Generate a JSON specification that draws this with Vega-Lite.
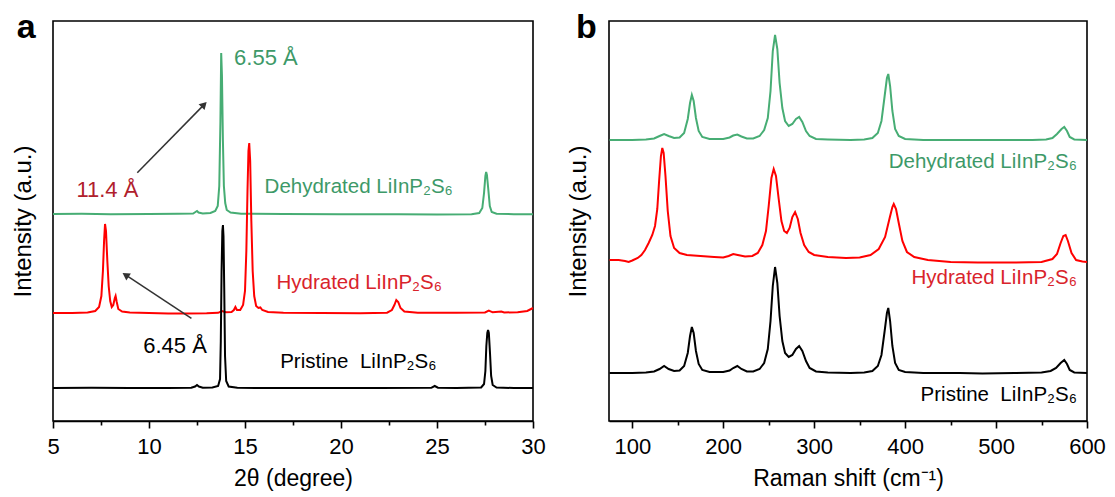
{
  "$schema": "https://vega.github.io/schema/vega-lite/v6.json",
  "background": "white",
  "padding": {"left": 10, "top": 10, "right": 5, "bottom": 5},
  "spacing": 18,
  "config": {
    "font": "Liberation Sans",
    "view": {"stroke": "#000000", "strokeWidth": 1.6},
    "axis": {"labelColor": "#000000", "titleColor": "#000000", "tickColor": "#000000", "domainColor": "#000000", "labelFont": "Liberation Sans", "titleFont": "Liberation Sans", "grid": false},
    "text": {"font": "Liberation Sans"}
  },
  "datasets": {
    "xrd": [
      {"s":"Dehydrated","t":5,"i":207},{"s":"Dehydrated","t":6.5,"i":207.2},{"s":"Dehydrated","t":8,"i":206.8},{"s":"Dehydrated","t":10,"i":207},{"s":"Dehydrated","t":11.5,"i":207.2},{"s":"Dehydrated","t":12.3,"i":207.5},{"s":"Dehydrated","t":12.42,"i":209},{"s":"Dehydrated","t":12.5,"i":210},{"s":"Dehydrated","t":12.58,"i":208.5},{"s":"Dehydrated","t":12.8,"i":207.5},{"s":"Dehydrated","t":13.2,"i":208},{"s":"Dehydrated","t":13.45,"i":210},{"s":"Dehydrated","t":13.58,"i":215},{"s":"Dehydrated","t":13.66,"i":235},{"s":"Dehydrated","t":13.72,"i":300},{"s":"Dehydrated","t":13.76,"i":368},{"s":"Dehydrated","t":13.8,"i":345},{"s":"Dehydrated","t":13.85,"i":280},{"s":"Dehydrated","t":13.9,"i":235},{"s":"Dehydrated","t":13.97,"i":218},{"s":"Dehydrated","t":14.05,"i":211},{"s":"Dehydrated","t":14.25,"i":208.5},{"s":"Dehydrated","t":14.8,"i":207.2},{"s":"Dehydrated","t":17,"i":207},{"s":"Dehydrated","t":20,"i":206.7},{"s":"Dehydrated","t":23,"i":206.7},{"s":"Dehydrated","t":25,"i":206.6},{"s":"Dehydrated","t":26.8,"i":206.8},{"s":"Dehydrated","t":27.2,"i":208},{"s":"Dehydrated","t":27.36,"i":213},{"s":"Dehydrated","t":27.45,"i":228},{"s":"Dehydrated","t":27.52,"i":245},{"s":"Dehydrated","t":27.56,"i":249},{"s":"Dehydrated","t":27.6,"i":246},{"s":"Dehydrated","t":27.67,"i":232},{"s":"Dehydrated","t":27.75,"i":215},{"s":"Dehydrated","t":27.85,"i":209},{"s":"Dehydrated","t":28.1,"i":207.2},{"s":"Dehydrated","t":29,"i":206.8},{"s":"Dehydrated","t":30,"i":206.7},
      {"s":"Hydrated","t":5,"i":108},{"s":"Hydrated","t":6,"i":108},{"s":"Hydrated","t":6.8,"i":108.5},{"s":"Hydrated","t":7.2,"i":110},{"s":"Hydrated","t":7.4,"i":114},{"s":"Hydrated","t":7.52,"i":125},{"s":"Hydrated","t":7.6,"i":150},{"s":"Hydrated","t":7.66,"i":180},{"s":"Hydrated","t":7.71,"i":197},{"s":"Hydrated","t":7.76,"i":190},{"s":"Hydrated","t":7.83,"i":160},{"s":"Hydrated","t":7.9,"i":135},{"s":"Hydrated","t":7.98,"i":120},{"s":"Hydrated","t":8.06,"i":114},{"s":"Hydrated","t":8.14,"i":116},{"s":"Hydrated","t":8.22,"i":123},{"s":"Hydrated","t":8.26,"i":125},{"s":"Hydrated","t":8.32,"i":119},{"s":"Hydrated","t":8.4,"i":112},{"s":"Hydrated","t":8.6,"i":109.5},{"s":"Hydrated","t":9,"i":108.5},{"s":"Hydrated","t":10,"i":108},{"s":"Hydrated","t":11,"i":107.6},{"s":"Hydrated","t":12,"i":107.6},{"s":"Hydrated","t":13,"i":107.8},{"s":"Hydrated","t":13.6,"i":108.2},{"s":"Hydrated","t":13.8,"i":110},{"s":"Hydrated","t":14.0,"i":108.8},{"s":"Hydrated","t":14.3,"i":109},{"s":"Hydrated","t":14.42,"i":111},{"s":"Hydrated","t":14.5,"i":114},{"s":"Hydrated","t":14.58,"i":111},{"s":"Hydrated","t":14.75,"i":111},{"s":"Hydrated","t":14.9,"i":116},{"s":"Hydrated","t":15.0,"i":130},{"s":"Hydrated","t":15.07,"i":170},{"s":"Hydrated","t":15.13,"i":230},{"s":"Hydrated","t":15.18,"i":270},{"s":"Hydrated","t":15.22,"i":278},{"s":"Hydrated","t":15.27,"i":260},{"s":"Hydrated","t":15.33,"i":200},{"s":"Hydrated","t":15.4,"i":150},{"s":"Hydrated","t":15.48,"i":125},{"s":"Hydrated","t":15.58,"i":115},{"s":"Hydrated","t":15.7,"i":113},{"s":"Hydrated","t":15.8,"i":113.5},{"s":"Hydrated","t":15.9,"i":111},{"s":"Hydrated","t":16.2,"i":109},{"s":"Hydrated","t":17,"i":108.3},{"s":"Hydrated","t":19,"i":108},{"s":"Hydrated","t":21,"i":107.8},{"s":"Hydrated","t":22.4,"i":108.3},{"s":"Hydrated","t":22.65,"i":111},{"s":"Hydrated","t":22.78,"i":116},{"s":"Hydrated","t":22.88,"i":121},{"s":"Hydrated","t":22.98,"i":119},{"s":"Hydrated","t":23.1,"i":113},{"s":"Hydrated","t":23.3,"i":109.5},{"s":"Hydrated","t":24,"i":108.3},{"s":"Hydrated","t":26,"i":108.3},{"s":"Hydrated","t":27.5,"i":108.5},{"s":"Hydrated","t":27.7,"i":110.5},{"s":"Hydrated","t":27.9,"i":108.7},{"s":"Hydrated","t":28.35,"i":109.5},{"s":"Hydrated","t":28.5,"i":108.5},{"s":"Hydrated","t":29.2,"i":108.8},{"s":"Hydrated","t":29.7,"i":110},{"s":"Hydrated","t":30,"i":113},
      {"s":"Pristine","t":5,"i":33},{"s":"Pristine","t":7,"i":33.2},{"s":"Pristine","t":9,"i":33},{"s":"Pristine","t":11,"i":33},{"s":"Pristine","t":12.2,"i":33.2},{"s":"Pristine","t":12.4,"i":34.5},{"s":"Pristine","t":12.5,"i":36},{"s":"Pristine","t":12.6,"i":34.5},{"s":"Pristine","t":12.8,"i":33.3},{"s":"Pristine","t":13.3,"i":33.5},{"s":"Pristine","t":13.6,"i":35},{"s":"Pristine","t":13.7,"i":42},{"s":"Pristine","t":13.74,"i":80},{"s":"Pristine","t":13.78,"i":150},{"s":"Pristine","t":13.82,"i":190},{"s":"Pristine","t":13.85,"i":196},{"s":"Pristine","t":13.88,"i":185},{"s":"Pristine","t":13.92,"i":130},{"s":"Pristine","t":13.96,"i":65},{"s":"Pristine","t":14.02,"i":40},{"s":"Pristine","t":14.15,"i":34.5},{"s":"Pristine","t":14.6,"i":33.2},{"s":"Pristine","t":16,"i":33},{"s":"Pristine","t":18,"i":33},{"s":"Pristine","t":20,"i":33},{"s":"Pristine","t":22,"i":33},{"s":"Pristine","t":24.7,"i":33.2},{"s":"Pristine","t":24.88,"i":35},{"s":"Pristine","t":25.05,"i":33.3},{"s":"Pristine","t":26,"i":33},{"s":"Pristine","t":27.3,"i":33.5},{"s":"Pristine","t":27.45,"i":37},{"s":"Pristine","t":27.52,"i":50},{"s":"Pristine","t":27.57,"i":75},{"s":"Pristine","t":27.62,"i":88},{"s":"Pristine","t":27.66,"i":91},{"s":"Pristine","t":27.7,"i":88},{"s":"Pristine","t":27.76,"i":68},{"s":"Pristine","t":27.82,"i":45},{"s":"Pristine","t":27.9,"i":36},{"s":"Pristine","t":28.1,"i":33.5},{"s":"Pristine","t":29,"i":33},{"s":"Pristine","t":30,"i":33}
    ],
    "raman": [
      {"s":"Dehydrated","t":75,"i":281},{"s":"Dehydrated","t":100,"i":281},{"s":"Dehydrated","t":115,"i":281.5},{"s":"Dehydrated","t":124,"i":282.5},{"s":"Dehydrated","t":130,"i":285},{"s":"Dehydrated","t":135,"i":287},{"s":"Dehydrated","t":140,"i":285},{"s":"Dehydrated","t":146,"i":283},{"s":"Dehydrated","t":152,"i":283.5},{"s":"Dehydrated","t":157,"i":288},{"s":"Dehydrated","t":161,"i":302},{"s":"Dehydrated","t":163.5,"i":318},{"s":"Dehydrated","t":165.5,"i":326},{"s":"Dehydrated","t":167.5,"i":320},{"s":"Dehydrated","t":170,"i":303},{"s":"Dehydrated","t":173,"i":290},{"s":"Dehydrated","t":177,"i":284},{"s":"Dehydrated","t":185,"i":282},{"s":"Dehydrated","t":200,"i":282},{"s":"Dehydrated","t":207,"i":283.5},{"s":"Dehydrated","t":211,"i":285.5},{"s":"Dehydrated","t":215.5,"i":286.5},{"s":"Dehydrated","t":220,"i":284.5},{"s":"Dehydrated","t":226,"i":282.5},{"s":"Dehydrated","t":233,"i":282.5},{"s":"Dehydrated","t":240,"i":285},{"s":"Dehydrated","t":245,"i":291},{"s":"Dehydrated","t":249,"i":303},{"s":"Dehydrated","t":252,"i":330},{"s":"Dehydrated","t":254.5,"i":370},{"s":"Dehydrated","t":257,"i":386},{"s":"Dehydrated","t":259.5,"i":372},{"s":"Dehydrated","t":262,"i":338},{"s":"Dehydrated","t":265,"i":313},{"s":"Dehydrated","t":268,"i":300},{"s":"Dehydrated","t":272,"i":295},{"s":"Dehydrated","t":276,"i":297},{"s":"Dehydrated","t":280,"i":302},{"s":"Dehydrated","t":283.5,"i":304},{"s":"Dehydrated","t":287,"i":299},{"s":"Dehydrated","t":291,"i":290},{"s":"Dehydrated","t":295,"i":285},{"s":"Dehydrated","t":302,"i":282},{"s":"Dehydrated","t":315,"i":281.5},{"s":"Dehydrated","t":340,"i":281},{"s":"Dehydrated","t":355,"i":281.5},{"s":"Dehydrated","t":364,"i":283},{"s":"Dehydrated","t":370,"i":288},{"s":"Dehydrated","t":374,"i":300},{"s":"Dehydrated","t":377.5,"i":325},{"s":"Dehydrated","t":380,"i":343},{"s":"Dehydrated","t":381.5,"i":347},{"s":"Dehydrated","t":383.5,"i":335},{"s":"Dehydrated","t":386,"i":310},{"s":"Dehydrated","t":389,"i":292},{"s":"Dehydrated","t":393,"i":285},{"s":"Dehydrated","t":400,"i":282},{"s":"Dehydrated","t":420,"i":281},{"s":"Dehydrated","t":460,"i":281},{"s":"Dehydrated","t":500,"i":281},{"s":"Dehydrated","t":540,"i":281},{"s":"Dehydrated","t":555,"i":281.5},{"s":"Dehydrated","t":562,"i":283},{"s":"Dehydrated","t":567,"i":287},{"s":"Dehydrated","t":572,"i":292},{"s":"Dehydrated","t":575,"i":294},{"s":"Dehydrated","t":578,"i":290},{"s":"Dehydrated","t":581,"i":284},{"s":"Dehydrated","t":586,"i":281.5},{"s":"Dehydrated","t":600,"i":281},
      {"s":"Hydrated","t":75,"i":161},{"s":"Hydrated","t":85,"i":161},{"s":"Hydrated","t":92,"i":160},{"s":"Hydrated","t":96,"i":159},{"s":"Hydrated","t":100,"i":160.5},{"s":"Hydrated","t":106,"i":163},{"s":"Hydrated","t":110,"i":166},{"s":"Hydrated","t":114,"i":171},{"s":"Hydrated","t":118,"i":178},{"s":"Hydrated","t":122,"i":186},{"s":"Hydrated","t":125,"i":195},{"s":"Hydrated","t":127.5,"i":212},{"s":"Hydrated","t":129.5,"i":240},{"s":"Hydrated","t":131.5,"i":265},{"s":"Hydrated","t":133,"i":273},{"s":"Hydrated","t":134.5,"i":268},{"s":"Hydrated","t":136.5,"i":245},{"s":"Hydrated","t":139,"i":210},{"s":"Hydrated","t":142,"i":185},{"s":"Hydrated","t":146,"i":173},{"s":"Hydrated","t":152,"i":168},{"s":"Hydrated","t":160,"i":166},{"s":"Hydrated","t":175,"i":165},{"s":"Hydrated","t":190,"i":164},{"s":"Hydrated","t":200,"i":163.5},{"s":"Hydrated","t":206,"i":165},{"s":"Hydrated","t":211,"i":167},{"s":"Hydrated","t":216,"i":166},{"s":"Hydrated","t":224,"i":164.5},{"s":"Hydrated","t":232,"i":165},{"s":"Hydrated","t":238,"i":168},{"s":"Hydrated","t":243,"i":176},{"s":"Hydrated","t":247,"i":190},{"s":"Hydrated","t":250,"i":215},{"s":"Hydrated","t":253,"i":243},{"s":"Hydrated","t":255.5,"i":252},{"s":"Hydrated","t":258,"i":245},{"s":"Hydrated","t":261,"i":222},{"s":"Hydrated","t":264,"i":200},{"s":"Hydrated","t":267,"i":190},{"s":"Hydrated","t":270,"i":188},{"s":"Hydrated","t":273,"i":193},{"s":"Hydrated","t":276,"i":204},{"s":"Hydrated","t":279,"i":209},{"s":"Hydrated","t":282,"i":202},{"s":"Hydrated","t":285,"i":188},{"s":"Hydrated","t":289,"i":176},{"s":"Hydrated","t":294,"i":169},{"s":"Hydrated","t":300,"i":166},{"s":"Hydrated","t":315,"i":164},{"s":"Hydrated","t":335,"i":163},{"s":"Hydrated","t":350,"i":163.5},{"s":"Hydrated","t":362,"i":166},{"s":"Hydrated","t":371,"i":172},{"s":"Hydrated","t":378,"i":184},{"s":"Hydrated","t":383,"i":203},{"s":"Hydrated","t":386,"i":214},{"s":"Hydrated","t":387.5,"i":217},{"s":"Hydrated","t":390,"i":212},{"s":"Hydrated","t":393,"i":198},{"s":"Hydrated","t":397,"i":180},{"s":"Hydrated","t":402,"i":169},{"s":"Hydrated","t":410,"i":164},{"s":"Hydrated","t":425,"i":161},{"s":"Hydrated","t":450,"i":159},{"s":"Hydrated","t":480,"i":158.5},{"s":"Hydrated","t":520,"i":158.5},{"s":"Hydrated","t":550,"i":159},{"s":"Hydrated","t":562,"i":162},{"s":"Hydrated","t":567,"i":167},{"s":"Hydrated","t":571,"i":178},{"s":"Hydrated","t":574,"i":185},{"s":"Hydrated","t":576.5,"i":186},{"s":"Hydrated","t":579,"i":180},{"s":"Hydrated","t":583,"i":168},{"s":"Hydrated","t":588,"i":161},{"s":"Hydrated","t":595,"i":159.5},{"s":"Hydrated","t":600,"i":159},
      {"s":"Pristine","t":75,"i":48},{"s":"Pristine","t":100,"i":48},{"s":"Pristine","t":115,"i":48.5},{"s":"Pristine","t":124,"i":49.5},{"s":"Pristine","t":130,"i":52},{"s":"Pristine","t":135,"i":55},{"s":"Pristine","t":140,"i":52},{"s":"Pristine","t":146,"i":50},{"s":"Pristine","t":152,"i":50.5},{"s":"Pristine","t":157,"i":55},{"s":"Pristine","t":161,"i":68},{"s":"Pristine","t":163.5,"i":85},{"s":"Pristine","t":165.5,"i":94},{"s":"Pristine","t":167.5,"i":88},{"s":"Pristine","t":170,"i":70},{"s":"Pristine","t":173,"i":57},{"s":"Pristine","t":177,"i":51},{"s":"Pristine","t":185,"i":49},{"s":"Pristine","t":200,"i":49},{"s":"Pristine","t":207,"i":50.5},{"s":"Pristine","t":211,"i":53},{"s":"Pristine","t":215.5,"i":55},{"s":"Pristine","t":220,"i":52},{"s":"Pristine","t":226,"i":49.5},{"s":"Pristine","t":233,"i":49.5},{"s":"Pristine","t":240,"i":52},{"s":"Pristine","t":245,"i":58},{"s":"Pristine","t":249,"i":72},{"s":"Pristine","t":252,"i":100},{"s":"Pristine","t":254.5,"i":135},{"s":"Pristine","t":257,"i":154},{"s":"Pristine","t":259.5,"i":138},{"s":"Pristine","t":262,"i":105},{"s":"Pristine","t":265,"i":80},{"s":"Pristine","t":268,"i":68},{"s":"Pristine","t":272,"i":64},{"s":"Pristine","t":276,"i":66},{"s":"Pristine","t":280,"i":72},{"s":"Pristine","t":283.5,"i":75},{"s":"Pristine","t":287,"i":70},{"s":"Pristine","t":291,"i":60},{"s":"Pristine","t":295,"i":53},{"s":"Pristine","t":302,"i":49.5},{"s":"Pristine","t":315,"i":48.5},{"s":"Pristine","t":340,"i":48},{"s":"Pristine","t":355,"i":48.5},{"s":"Pristine","t":364,"i":50},{"s":"Pristine","t":370,"i":55},{"s":"Pristine","t":374,"i":66},{"s":"Pristine","t":377.5,"i":90},{"s":"Pristine","t":380,"i":108},{"s":"Pristine","t":381.5,"i":113},{"s":"Pristine","t":383.5,"i":100},{"s":"Pristine","t":386,"i":75},{"s":"Pristine","t":389,"i":58},{"s":"Pristine","t":393,"i":51},{"s":"Pristine","t":400,"i":49},{"s":"Pristine","t":420,"i":48},{"s":"Pristine","t":460,"i":48},{"s":"Pristine","t":485,"i":47.5},{"s":"Pristine","t":520,"i":48},{"s":"Pristine","t":550,"i":48.5},{"s":"Pristine","t":560,"i":50},{"s":"Pristine","t":566,"i":53},{"s":"Pristine","t":571,"i":58},{"s":"Pristine","t":575,"i":61},{"s":"Pristine","t":578,"i":57},{"s":"Pristine","t":581,"i":51},{"s":"Pristine","t":586,"i":48.5},{"s":"Pristine","t":600,"i":48}
    ],
    "xrdText": [
      {"kind":"panel","s":"panel","t":3.6,"i":393,"label":"a"},
      {"kind":"peak","s":"Dehydrated","t":14.43,"i":363,"label":"6.55 Å"},
      {"kind":"peak","s":"HydratedPeak","t":6.22,"i":231,"label":"11.4 Å"},
      {"kind":"peak","s":"Pristine","t":9.7,"i":75.5,"label":"6.45 Å"},
      {"kind":"series","s":"Dehydrated","t":16.02,"i":234,"label":"Dehydrated LiInP₂S₆"},
      {"kind":"series","s":"Hydrated","t":16.64,"i":138,"label":"Hydrated LiInP₂S₆"},
      {"kind":"series","s":"Pristine","t":16.83,"i":59.3,"label":"Pristine\u00a0 LiInP₂S₆"}
    ],
    "ramanText": [
      {"kind":"panel","s":"panel","t":49.5,"i":392.7,"label":"b"},
      {"kind":"series","s":"Dehydrated","t":589,"i":259.4,"label":"Dehydrated LiInP₂S₆"},
      {"kind":"series","s":"Hydrated","t":589,"i":142.7,"label":"Hydrated LiInP₂S₆"},
      {"kind":"series","s":"Pristine","t":589,"i":26,"label":"Pristine\u00a0 LiInP₂S₆"}
    ],
    "arrows": [
      {"n":1,"t":9.39,"i":248.3,"t2":12.87,"i2":316.4},
      {"n":2,"t":12.21,"i":102.7,"t2":8.78,"i2":146.1}
    ]
  },
  "hconcat": [
    {
      "width": 480,
      "height": 400,
      "layer": [
        {
          "data": {"name": "xrd"},
          "mark": {"type": "line", "strokeWidth": 2},
          "encoding": {
            "x": {"field": "t", "type": "quantitative", "scale": {"domain": [5, 30], "nice": false, "zero": false},
              "axis": {"title": "2θ (degree)", "values": [5,7.5,10,12.5,15,17.5,20,22.5,25,27.5,30], "labelExpr": "datum.value % 5 === 0 ? datum.label : ''", "tickSize": {"condition": {"test": "datum.value % 5 === 0", "value": 7}, "value": 4}, "tickWidth": 1.6, "domainWidth": 1.6, "labelFontSize": 22, "titleFontSize": 23, "titleFontWeight": "normal", "labelPadding": 8, "titlePadding": 10, "labelFlush": false, "labelOverlap": false}},
            "y": {"field": "i", "type": "quantitative", "scale": {"domain": [0, 400], "nice": false},
              "axis": {"title": "Intensity (a.u.)", "labels": false, "ticks": false, "domain": false, "titleFontSize": 24, "titleFontWeight": "normal", "titlePadding": 18}},
            "color": {"field": "s", "type": "nominal", "scale": {"domain": ["Dehydrated", "Hydrated", "Pristine"], "range": ["#47ad74", "#ff0000", "#000000"]}, "legend": null}
          }
        },
        {
          "data": {"name": "arrows"},
          "mark": {"type": "rule", "color": "#333333", "strokeWidth": 1.5},
          "encoding": {
            "x": {"field": "t", "type": "quantitative"},
            "y": {"field": "i", "type": "quantitative"},
            "x2": {"field": "t2"},
            "y2": {"field": "i2"}
          }
        },
        {
          "data": {"name": "arrows"},
          "transform": [{"filter": "datum.n === 1"}],
          "mark": {"type": "point", "shape": "triangle-up", "filled": true, "color": "#333333", "opacity": 1, "size": 70, "angle": 44.5},
          "encoding": {
            "x": {"field": "t2", "type": "quantitative"},
            "y": {"field": "i2", "type": "quantitative"}
          }
        },
        {
          "data": {"name": "arrows"},
          "transform": [{"filter": "datum.n === 2"}],
          "mark": {"type": "point", "shape": "triangle-up", "filled": true, "color": "#333333", "opacity": 1, "size": 70, "angle": 303.3},
          "encoding": {
            "x": {"field": "t2", "type": "quantitative"},
            "y": {"field": "i2", "type": "quantitative"}
          }
        },
        {
          "data": {"name": "xrdText"},
          "transform": [{"filter": "datum.kind === 'peak'"}],
          "mark": {"type": "text", "align": "left", "baseline": "middle", "fontSize": 22},
          "encoding": {
            "x": {"field": "t", "type": "quantitative"},
            "y": {"field": "i", "type": "quantitative"},
            "text": {"field": "label"},
            "color": {"field": "s", "type": "nominal", "scale": {"domain": ["panel", "Dehydrated", "Hydrated", "HydratedPeak", "Pristine"], "range": ["#000000", "#3d9968", "#d9232b", "#b0202c", "#000000"]}, "legend": null}
          }
        },
        {
          "data": {"name": "xrdText"},
          "transform": [{"filter": "datum.kind === 'series'"}],
          "mark": {"type": "text", "align": "left", "baseline": "middle", "fontSize": 20.5},
          "encoding": {
            "x": {"field": "t", "type": "quantitative"},
            "y": {"field": "i", "type": "quantitative"},
            "text": {"field": "label"},
            "color": {"field": "s", "type": "nominal", "scale": {"domain": ["panel", "Dehydrated", "Hydrated", "HydratedPeak", "Pristine"], "range": ["#000000", "#3d9968", "#d9232b", "#b0202c", "#000000"]}, "legend": null}
          }
        },
        {
          "data": {"name": "xrdText"},
          "transform": [{"filter": "datum.kind === 'panel'"}],
          "mark": {"type": "text", "align": "center", "baseline": "middle", "fontSize": 34, "fontWeight": "bold", "color": "#000000"},
          "encoding": {
            "x": {"field": "t", "type": "quantitative"},
            "y": {"field": "i", "type": "quantitative"},
            "text": {"field": "label"}
          }
        }
      ],
      "resolve": {"scale": {"color": "independent"}}
    },
    {
      "width": 478,
      "height": 400,
      "layer": [
        {
          "data": {"name": "raman"},
          "mark": {"type": "line", "strokeWidth": 2},
          "encoding": {
            "x": {"field": "t", "type": "quantitative", "scale": {"domain": [74.4, 600], "nice": false, "zero": false},
              "axis": {"title": "Raman shift (cm⁻¹)", "values": [100,150,200,250,300,350,400,450,500,550,600], "labelExpr": "datum.value % 100 === 0 ? datum.label : ''", "tickSize": {"condition": {"test": "datum.value % 100 === 0", "value": 7}, "value": 4}, "tickWidth": 1.6, "domainWidth": 1.6, "labelFontSize": 22, "titleFontSize": 23, "titleFontWeight": "normal", "labelPadding": 8, "titlePadding": 10, "labelFlush": false, "labelOverlap": false}},
            "y": {"field": "i", "type": "quantitative", "scale": {"domain": [0, 400], "nice": false},
              "axis": {"title": "Intensity (a.u.)", "labels": false, "ticks": false, "domain": false, "titleFontSize": 24, "titleFontWeight": "normal", "titlePadding": 19}},
            "color": {"field": "s", "type": "nominal", "scale": {"domain": ["Dehydrated", "Hydrated", "Pristine"], "range": ["#47ad74", "#ff0000", "#000000"]}, "legend": null}
          }
        },
        {
          "data": {"name": "ramanText"},
          "transform": [{"filter": "datum.kind === 'series'"}],
          "mark": {"type": "text", "align": "right", "baseline": "middle", "fontSize": 20.5},
          "encoding": {
            "x": {"field": "t", "type": "quantitative"},
            "y": {"field": "i", "type": "quantitative"},
            "text": {"field": "label"},
            "color": {"field": "s", "type": "nominal", "scale": {"domain": ["panel", "Dehydrated", "Hydrated", "HydratedPeak", "Pristine"], "range": ["#000000", "#3d9968", "#d9232b", "#b0202c", "#000000"]}, "legend": null}
          }
        },
        {
          "data": {"name": "ramanText"},
          "transform": [{"filter": "datum.kind === 'panel'"}],
          "mark": {"type": "text", "align": "center", "baseline": "middle", "fontSize": 34, "fontWeight": "bold", "color": "#000000"},
          "encoding": {
            "x": {"field": "t", "type": "quantitative"},
            "y": {"field": "i", "type": "quantitative"},
            "text": {"field": "label"}
          }
        }
      ],
      "resolve": {"scale": {"color": "independent"}}
    }
  ]
}
